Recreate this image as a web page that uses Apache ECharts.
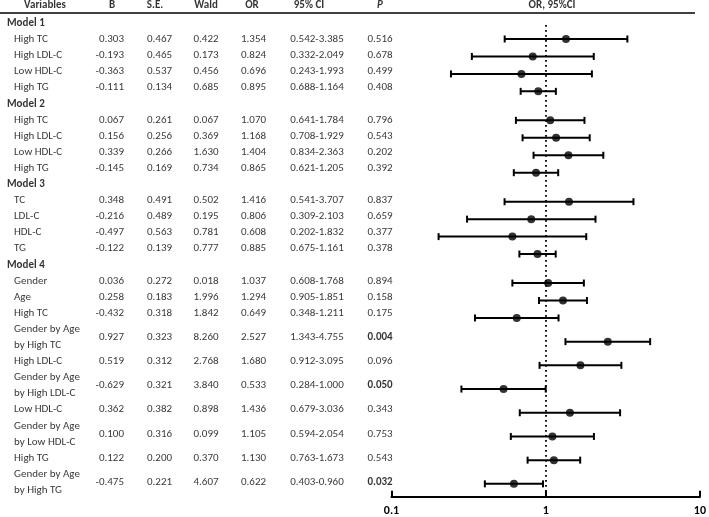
<!DOCTYPE html>
<html>
<head>
<meta charset="utf-8">
<script src="https://cdn.jsdelivr.net/npm/echarts@6/dist/echarts.min.js"></script>
<style>
  html, body { margin: 0; padding: 0; background: #fff; }
  #chart { width: 709px; height: 517px; }
</style>
</head>
<body>
<div id="chart"></div>
<script>
const groupNames = ['Model 1', 'Model 2', 'Model 3', 'Model 4']
const variables = [
  'High TC', 'High LDL-C', 'Low HDL-C', 'High TG',
  'High TC', 'High LDL-C', 'Low HDL-C', 'High TG',
  'TC', 'LDL-C', 'HDL-C', 'TG',
  'Gender', 'Age', 'High TC', 'Gender by Age\nby High TC', 'High LDL-C',
  'Gender by Age\nby High LDL-C', 'Low HDL-C', 'Gender by Age\nby Low HDL-C',
  'High TG', 'Gender by Age\nby High TG'
]
const groupOf = [0, 0, 0, 0, 1, 1, 1, 1, 2, 2, 2, 2, 3, 3, 3, 3, 3, 3, 3, 3, 3, 3]
const bValues = [0.303, -0.193, -0.363, -0.111, 0.067, 0.156, 0.339, -0.145, 0.348, -0.216, -0.497, -0.122,
  0.036, 0.258, -0.432, 0.927, 0.519, -0.629, 0.362, 0.100, 0.122, -0.475]
const seValues = [0.467, 0.465, 0.537, 0.134, 0.261, 0.256, 0.266, 0.169, 0.491, 0.489, 0.563, 0.139,
  0.272, 0.183, 0.318, 0.323, 0.312, 0.321, 0.382, 0.316, 0.200, 0.221]
const waldValues = [0.422, 0.173, 0.456, 0.685, 0.067, 0.369, 1.630, 0.734, 0.502, 0.195, 0.781, 0.777,
  0.018, 1.996, 1.842, 8.260, 2.768, 3.840, 0.898, 0.099, 0.370, 4.607]
const orValues = [1.354, 0.824, 0.696, 0.895, 1.070, 1.168, 1.404, 0.865, 1.416, 0.806, 0.608, 0.885,
  1.037, 1.294, 0.649, 2.527, 1.680, 0.533, 1.436, 1.105, 1.130, 0.622]
const ciLow = [0.542, 0.332, 0.243, 0.688, 0.641, 0.708, 0.834, 0.621, 0.541, 0.309, 0.202, 0.675,
  0.608, 0.905, 0.348, 1.343, 0.912, 0.284, 0.679, 0.594, 0.763, 0.403]
const ciHigh = [3.385, 2.049, 1.993, 1.164, 1.784, 1.929, 2.363, 1.205, 3.707, 2.103, 1.832, 1.161,
  1.768, 1.851, 1.211, 4.755, 3.095, 1.000, 3.036, 2.054, 1.673, 0.960]
const pValues = [0.516, 0.678, 0.499, 0.408, 0.796, 0.543, 0.202, 0.392, 0.837, 0.659, 0.377, 0.378,
  0.894, 0.158, 0.175, 0.004, 0.096, 0.050, 0.343, 0.753, 0.543, 0.032]
const headers = ['Variables', 'B', 'S.E.', 'Wald', 'OR', '95% CI', 'P', 'OR, 95%CI']

const FONT = 'Carlito, Calibri, Lato, sans-serif'
const TXT = '#000'

// table rows: group lines are one unit, two-line labels take two
const rowUnit = 16.1
const tableTop = 15.25
const headerY = []
const varY = []
let cursor = 0
groupNames.forEach((g, gi) => {
  headerY.push(tableTop + (cursor + 0.5) * rowUnit)
  cursor += 1
  variables.forEach((v, i) => {
    if (groupOf[i] !== gi) return
    const h = v.includes('\n') ? 2 : 1
    varY[i] = tableTop + (cursor + h / 2) * rowUnit
    cursor += h
  })
})

// forest rows have their own spacing
const forestY = []
let fy = 39
variables.forEach((v, i) => {
  if (i > 0) {
    if (groupOf[i] !== groupOf[i - 1]) fy += 29
    else if (v.includes('\n') || variables[i - 1].includes('\n')) fy += 23.7
    else fy += 17.45
  }
  forestY.push(fy)
})

function textColumn(name, xs, align, texts, ys, boldFlags, styleFn) {
  return {
    name,
    type: 'scatter',
    xAxisIndex: 0,
    yAxisIndex: 0,
    symbolSize: 0,
    silent: true,
    z: 1,
    data: texts.map((t, i) => ({
      name: t,
      value: [Array.isArray(xs) ? xs[i] : xs, ys[i]],
      label: Object.assign(
        { fontWeight: boldFlags && boldFlags[i] ? 'bold' : 'normal' },
        styleFn ? styleFn(t, i) : {}
      )
    })),
    label: {
      show: true,
      position: 'inside',
      align,
      verticalAlign: 'middle',
      formatter: '{b}',
      fontFamily: FONT,
      fontSize: 11,
      lineHeight: 16,
      color: TXT
    }
  }
}

const f3 = (v) => v.toFixed(3)
const pBold = pValues.map((p) => p <= 0.05)
const headerX = [45, 112, 155, 206, 252, 309, 380, 552]

const chart = echarts.init(document.getElementById('chart'))
chart.setOption({
  animation: false,
  grid: [
    { left: 0, right: 0, top: 0, bottom: 0 },
    { left: 391.5, right: 6.5, top: 0, bottom: 20.3 }
  ],
  xAxis: [
    { gridIndex: 0, type: 'value', min: 0, max: 709, show: false },
    {
      gridIndex: 1,
      type: 'log',
      logBase: 10,
      min: 0.1,
      max: 10,
      position: 'bottom',
      axisLine: { show: true, onZero: false, lineStyle: { color: '#000', width: 2.2 } },
      axisTick: { show: true, inside: true, length: 6, lineStyle: { color: '#000', width: 2 } },
      minorTick: { show: false },
      splitLine: { show: false },
      axisLabel: {
        margin: 8,
        fontFamily: FONT,
        fontSize: 12,
        fontWeight: 'bold',
        color: '#000',
        formatter: (v) => String(+Number(v).toPrecision(3))
      }
    }
  ],
  yAxis: [
    { gridIndex: 0, type: 'value', min: 0, max: 517, inverse: true, show: false },
    { gridIndex: 1, type: 'value', min: 0, max: 496.7, inverse: true, show: false }
  ],
  graphic: [
    {
      type: 'line',
      z: 100,
      shape: { x1: 0, y1: 13, x2: 695, y2: 13 },
      style: { stroke: '#000', lineWidth: 1.3 },
      silent: true
    }
  ],
  series: [
    textColumn('headers', headerX, 'center', headers, headers.map(() => 5.7), headers.map(() => true),
      (t) => (t === 'P' ? { fontStyle: 'italic' } : {})),
    textColumn('groups', 7, 'left', groupNames, headerY, groupNames.map(() => true)),
    textColumn('variables', 14, 'left', variables, varY),
    textColumn('B', 124, 'right', bValues.map(f3), varY),
    textColumn('S.E.', 159.5, 'center', seValues.map(f3), varY),
    textColumn('Wald', 206, 'center', waldValues.map(f3), varY),
    textColumn('OR', 253.5, 'center', orValues.map(f3), varY),
    textColumn('CI', 317, 'center', ciLow.map((l, i) => f3(l) + '-' + f3(ciHigh[i])), varY),
    textColumn('P', 380, 'center', pValues.map(f3), varY, pBold),
    {
      name: 'CI bars',
      type: 'custom',
      xAxisIndex: 1,
      yAxisIndex: 1,
      silent: true,
      data: ciLow.map((l, i) => [l, ciHigh[i], forestY[i]]),
      renderItem: (params, api) => {
        const a = api.coord([api.value(0), api.value(2)])
        const b = api.coord([api.value(1), api.value(2)])
        const st = { stroke: '#000', lineWidth: 2 }
        return {
          type: 'group',
          children: [
            { type: 'line', shape: { x1: a[0], y1: a[1], x2: b[0], y2: b[1] }, style: st },
            { type: 'line', shape: { x1: a[0], y1: a[1] - 3.5, x2: a[0], y2: a[1] + 3.5 }, style: st },
            { type: 'line', shape: { x1: b[0], y1: b[1] - 3.5, x2: b[0], y2: b[1] + 3.5 }, style: st }
          ]
        }
      }
    },
    {
      name: 'OR',
      type: 'scatter',
      xAxisIndex: 1,
      yAxisIndex: 1,
      symbol: 'circle',
      symbolSize: 8,
      silent: true,
      itemStyle: { color: '#000' },
      data: orValues.map((v, i) => [v, forestY[i]]),
      markLine: {
        silent: true,
        symbol: 'none',
        label: { show: false },
        lineStyle: { color: '#000', width: 1.8, type: [1.8, 3.2] },
        data: [[{ coord: [1, 25] }, { coord: [1, 496.7] }]]
      }
    }
  ]
})
</script>
</body>
</html>
